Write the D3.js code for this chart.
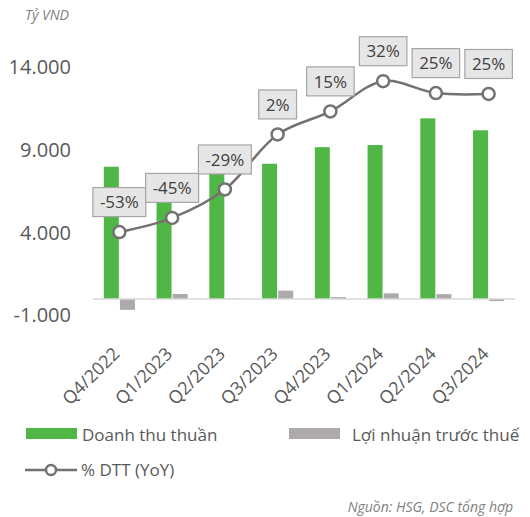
<!DOCTYPE html>
<html>
<head>
<meta charset="utf-8">
<script src="https://cdn.jsdelivr.net/npm/d3@7"></script>
<style>
body{margin:0;background:#fff}
svg{display:block;font-family:"Open Sans",sans-serif}
</style>
</head>
<body>
<svg id="chart" width="530" height="517"></svg>
<script>
let quarters=["Q4/2022","Q1/2023","Q2/2023","Q3/2023","Q4/2023","Q1/2024","Q2/2024","Q3/2024"]
let revenue=[7980,7040,8700,8160,9160,9290,10900,10180]
let profit=[-660,300,20,500,110,340,290,-130]
let yoy=[-53,-45,-29,2,15,32,25.3,24.8]
let yTicks=[-1000,4000,9000,14000]
let seriesNames=["Doanh thu thuần","Lợi nhuận trước thuế"]

let svg=d3.select("#chart")
let green="#50b747", gray="#aeaaaa", lineCol="#767171", txt="#595959"

let x=d3.scaleBand().domain(quarters).range([93,515]).paddingInner(0.41).paddingOuter(0.205)
let xs=d3.scaleBand().domain(seriesNames).range([0,x.bandwidth()]).paddingInner(0.07)
let y=d3.scaleLinear().domain([-1000,14000]).range([315.5,67])
let y2=d3.scaleLinear().domain([-100,40]).range([315.5,67])

// unit
svg.append("text").attr("x",25).attr("y",20)
.attr("font-size",14).attr("font-style","italic").attr("fill","#7f7f7f").text("Tỷ VND")

// y axis labels
let fmt=v=>d3.format(",")(v).replace(/,/g,".").replace("−","-")
let ya=svg.append("g").attr("transform","translate(71,0)")
.call(d3.axisLeft(y).tickValues(yTicks).tickSize(0).tickPadding(0).tickFormat(fmt))
ya.select(".domain").remove()
ya.selectAll("text").attr("font-size",20).attr("fill",txt).attr("font-family","Open Sans")

// bars
let rows=quarters.map((q,i)=>({q,vals:[revenue[i],profit[i]]}))
let grp=svg.selectAll(".grp").data(rows).enter().append("g")
.attr("transform",d=>"translate("+x(d.q)+",0)")
grp.selectAll("rect").data(d=>d.vals.map((v,j)=>({v,name:seriesNames[j]}))).enter()
.append("rect")
.attr("x",d=>xs(d.name)).attr("width",xs.bandwidth())
.attr("y",d=>y(Math.max(0,d.v))).attr("height",d=>Math.abs(y(d.v)-y(0)))
.attr("fill",(d,j)=>j===0?green:gray)

// zero line
svg.append("line").attr("x1",93).attr("x2",515).attr("y1",y(0)).attr("y2",y(0))
.attr("stroke","#d9d9d9").attr("stroke-width",1.5)

// category labels
let xa=svg.append("g").attr("transform","translate(0,"+(y(-1000)+35)+")")
.call(d3.axisBottom(x).tickSize(0).tickPadding(0))
xa.select(".domain").remove()
xa.selectAll("text").attr("font-size",18).attr("fill",txt).attr("font-family","Open Sans")
.attr("text-anchor","end").attr("dy","0.35em")
.attr("transform","translate(-3,0) rotate(-45)")

// line
let cx=q=>x(q)+x.bandwidth()/2
let pts=quarters.map((q,i)=>[cx(q),y2(yoy[i])])
svg.append("path").attr("d",d3.line().curve(d3.curveCatmullRom.alpha(0.5))(pts))
.attr("fill","none").attr("stroke",lineCol).attr("stroke-width",2.5)
svg.selectAll(".dot").data(pts).enter().append("circle")
.attr("cx",d=>d[0]).attr("cy",d=>d[1]).attr("r",6)
.attr("fill","#fff").attr("stroke",lineCol).attr("stroke-width",2.5)

// data labels
let lab=svg.selectAll(".lab").data(quarters).enter().append("g")
.attr("transform",(q,i)=>"translate("+cx(q)+","+(y2(yoy[i])-30)+")")
lab.append("text").attr("text-anchor","middle").attr("dy","0.36em")
.attr("font-size",17).attr("fill","#404040").text((q,i)=>Math.round(yoy[i])+"%")
lab.each(function(){
let g=d3.select(this), b=g.select("text").node().getBBox()
g.insert("rect","text").attr("x",-b.width/2-7).attr("y",-14.5)
.attr("width",b.width+14).attr("height",29)
.attr("fill","#e7e6e6").attr("stroke","#a5a5a5").attr("stroke-width",1.2)
})

// legend
let leg=svg.append("g")
leg.append("rect").attr("x",26).attr("y",428).attr("width",51).attr("height",11).attr("fill",green)
leg.append("text").attr("x",82).attr("y",441).attr("font-size",17).attr("fill",txt).text(seriesNames[0])
leg.append("rect").attr("x",289).attr("y",428).attr("width",51).attr("height",11).attr("fill",gray)
leg.append("text").attr("x",352).attr("y",441).attr("font-size",17).attr("fill",txt).text(seriesNames[1])
leg.append("line").attr("x1",25).attr("x2",77).attr("y1",470).attr("y2",470)
.attr("stroke",lineCol).attr("stroke-width",2.5)
leg.append("circle").attr("cx",51).attr("cy",470).attr("r",5)
.attr("fill","#fff").attr("stroke",lineCol).attr("stroke-width",2.5)
leg.append("text").attr("x",81).attr("y",476).attr("font-size",17).attr("fill",txt).text("% DTT (YoY)")

// source
svg.append("text").attr("x",513).attr("y",512).attr("text-anchor","end")
.attr("font-size",14).attr("font-style","italic").attr("fill","#7f7f7f")
.text("Nguồn: HSG, DSC tổng hợp")
</script>
</body>
</html>
